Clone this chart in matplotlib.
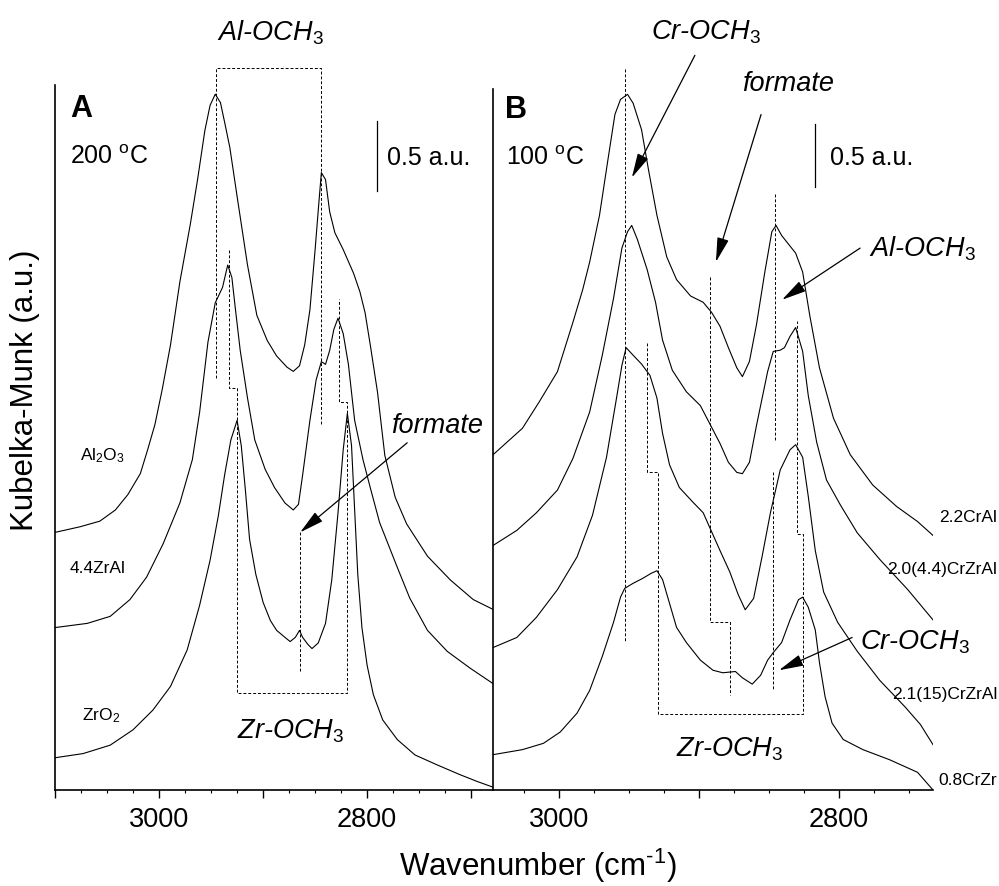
import matplotlib
matplotlib.use('Agg')
import matplotlib.pyplot as plt
from matplotlib.ticker import MultipleLocator, FuncFormatter

plt.rcParams['font.family'] = 'Liberation Sans'
plt.rcParams['mathtext.fontset'] = 'custom'
plt.rcParams['mathtext.rm'] = 'Liberation Sans'
plt.rcParams['mathtext.it'] = 'Liberation Sans:italic'
plt.rcParams['mathtext.bf'] = 'Liberation Sans:bold'

# ---- panel A, 200 C (wavenumber in cm-1, Kubelka-Munk in a.u., offset stacked) ----
wn_al2o3 = [3100, 3076, 3057, 3042, 3030, 3018, 3011, 3004, 2997, 2989, 2980, 2970, 2963, 2956, 2951,
            2946, 2941, 2937, 2932, 2925, 2915, 2906, 2896, 2887, 2877, 2871, 2865, 2860, 2855, 2850,
            2847, 2844, 2840, 2836, 2831, 2823, 2813, 2807, 2802, 2797, 2790, 2783, 2773, 2762, 2742,
            2720, 2698, 2679]
km_al2o3 = [1.84, 1.88, 1.92, 2.00, 2.11, 2.26, 2.43, 2.61, 2.86, 3.18, 3.63, 4.04, 4.36, 4.71, 4.89,
            4.97, 4.91, 4.77, 4.59, 4.24, 3.75, 3.39, 3.21, 3.10, 3.02, 2.99, 3.03, 3.18, 3.43, 3.86,
            4.14, 4.41, 4.36, 4.13, 3.98, 3.86, 3.69, 3.56, 3.41, 3.18, 2.84, 2.39, 2.09, 1.90, 1.67,
            1.50, 1.36, 1.29]

wn_zral = [3100, 3069, 3047, 3028, 3012, 2996, 2980, 2968, 2961, 2953, 2946, 2939, 2934, 2930, 2927,
           2922, 2915, 2908, 2898, 2889, 2879, 2871, 2866, 2862, 2855, 2849, 2844, 2840, 2836, 2832,
           2828, 2823, 2818, 2812, 2804, 2797, 2788, 2771, 2759, 2742, 2723, 2701, 2679]
km_zral = [1.16, 1.19, 1.24, 1.36, 1.52, 1.76, 2.05, 2.36, 2.70, 3.20, 3.48, 3.59, 3.75, 3.66, 3.46,
           3.14, 2.80, 2.50, 2.29, 2.16, 2.05, 2.00, 2.04, 2.25, 2.64, 2.93, 3.06, 3.04, 3.14, 3.29,
           3.37, 3.26, 3.04, 2.64, 2.36, 2.16, 1.91, 1.59, 1.37, 1.14, 0.99, 0.87, 0.76]

wn_zro2 = [3100, 3073, 3047, 3025, 3006, 2989, 2973, 2961, 2951, 2943, 2937, 2931, 2925, 2921, 2917,
           2913, 2907, 2900, 2893, 2887, 2879, 2874, 2869, 2865, 2862, 2857, 2853, 2847, 2840, 2834,
           2828, 2823, 2819, 2815, 2812, 2809, 2805, 2800, 2794, 2785, 2771, 2754, 2733, 2711, 2694,
           2679]
km_zro2 = [0.23, 0.26, 0.32, 0.43, 0.57, 0.74, 1.00, 1.32, 1.64, 1.96, 2.25, 2.50, 2.64, 2.46, 2.14,
           1.79, 1.54, 1.34, 1.21, 1.14, 1.09, 1.06, 1.09, 1.14, 1.09, 1.04, 1.01, 1.05, 1.19, 1.50,
           1.98, 2.43, 2.69, 2.46, 2.00, 1.54, 1.16, 0.89, 0.68, 0.50, 0.36, 0.25, 0.18, 0.11, 0.06,
           0.02]

# ---- panel B, 100 C ----
wn_crai = [3047, 3035, 3026, 3014, 3001, 2990, 2983, 2978, 2971, 2965, 2960, 2956, 2951, 2947, 2941,
           2936, 2930, 2923, 2916, 2906, 2897, 2891, 2885, 2879, 2873, 2869, 2864, 2859, 2853, 2848,
           2845, 2841, 2836, 2831, 2826, 2821, 2814, 2804, 2792, 2776, 2759, 2744, 2733]
km_crai = [2.66, 2.78, 2.87, 3.08, 3.32, 3.71, 3.97, 4.19, 4.56, 5.00, 5.36, 5.48, 5.52, 5.45, 5.24,
           4.92, 4.56, 4.23, 4.05, 3.92, 3.87, 3.79, 3.68, 3.51, 3.35, 3.28, 3.40, 3.69, 4.11, 4.43,
           4.48, 4.40, 4.33, 4.26, 4.11, 3.77, 3.35, 2.95, 2.66, 2.42, 2.25, 2.13, 2.02]

wn_crzral44 = [3047, 3030, 3016, 3001, 2990, 2978, 2969, 2961, 2955, 2951, 2948, 2944, 2937, 2931, 2926,
               2919, 2909, 2899, 2892, 2885, 2879, 2873, 2869, 2864, 2859, 2851, 2847, 2842, 2839, 2835,
               2831, 2826, 2822, 2816, 2809, 2799, 2787, 2771, 2751, 2733]
km_crzral44 = [1.94, 2.06, 2.20, 2.38, 2.63, 3.00, 3.45, 3.90, 4.30, 4.43, 4.48, 4.37, 4.13, 3.87, 3.57,
               3.33, 3.16, 3.05, 2.90, 2.75, 2.60, 2.52, 2.51, 2.60, 2.89, 3.32, 3.48, 3.49, 3.51, 3.60,
               3.67, 3.48, 3.13, 2.76, 2.46, 2.26, 2.04, 1.83, 1.59, 1.35]

wn_crzral15 = [3047, 3030, 3016, 3001, 2987, 2976, 2966, 2959, 2955, 2952, 2947, 2941, 2935, 2930, 2926,
               2921, 2914, 2904, 2897, 2891, 2885, 2878, 2872, 2867, 2861, 2855, 2849, 2842, 2835, 2831,
               2826, 2822, 2817, 2811, 2801, 2787, 2771, 2753, 2742, 2733]
km_crzral15 = [1.13, 1.21, 1.37, 1.59, 1.85, 2.18, 2.64, 3.10, 3.37, 3.51, 3.45, 3.38, 3.29, 3.11, 2.83,
               2.58, 2.40, 2.28, 2.20, 2.05, 1.90, 1.73, 1.55, 1.43, 1.52, 1.85, 2.20, 2.54, 2.70, 2.74,
               2.64, 2.33, 1.90, 1.57, 1.33, 1.10, 0.87, 0.66, 0.52, 0.36]

wn_crzr = [3047, 3026, 3011, 2999, 2987, 2978, 2969, 2961, 2956, 2953, 2947, 2940, 2934, 2930, 2926,
           2921, 2916, 2909, 2899, 2890, 2883, 2874, 2869, 2862, 2856, 2851, 2847, 2841, 2835, 2829,
           2826, 2822, 2817, 2814, 2810, 2805, 2797, 2783, 2764, 2744, 2733]
km_crzr = [0.28, 0.32, 0.37, 0.46, 0.61, 0.79, 1.06, 1.33, 1.53, 1.60, 1.64, 1.68, 1.72, 1.74, 1.67,
           1.48, 1.29, 1.17, 1.03, 0.95, 0.93, 0.94, 0.89, 0.84, 0.91, 1.03, 1.09, 1.17, 1.35, 1.51,
           1.53, 1.45, 1.27, 1.01, 0.74, 0.53, 0.40, 0.32, 0.24, 0.14, 0.00]

# band assignments (cm-1)
al_bands_a = [2945, 2844]
zr_bands = [2925, 2819]
formate_band = 2865

LW = 0.8
DASH = dict(color='k', lw=0.7, ls=(0, (3, 2)), clip_on=False)
ARROW = dict(arrowstyle='-|>,head_length=0.75,head_width=0.18', color='k', lw=0.9,
             mutation_scale=20, shrinkA=0, shrinkB=0)
LABEL_FS = 19.5


def style_axes(ax, left, right, top):
    ax.set_xlim(left, right)
    ax.set_ylim(0, top)
    for side in ('top', 'right'):
        ax.spines[side].set_visible(False)
    for side in ('left', 'bottom'):
        ax.spines[side].set_linewidth(1.2)
    ax.tick_params(axis='y', left=False, labelleft=False)
    ax.xaxis.set_major_locator(MultipleLocator(100))
    ax.xaxis.set_minor_locator(MultipleLocator(25))
    ax.xaxis.set_major_formatter(FuncFormatter(
        lambda v, p: f'{v:.0f}' if round(v) in (3000, 2800) else ''))
    ax.tick_params(axis='x', which='major', direction='out', length=6, width=1.0,
                   labelsize=19.5, pad=6)
    ax.tick_params(axis='x', which='minor', direction='out', length=2.5, width=0.8)
    ax.patch.set_alpha(0)


fig = plt.figure(figsize=(9.99, 8.86), dpi=100)
ax_a = fig.add_axes([0.0551, 0.1084, 0.4384, 0.7957])
ax_b = fig.add_axes([0.4935, 0.1084, 0.4404, 0.7912])
style_axes(ax_a, 3100, 2679, 5.036)
style_axes(ax_b, 3047, 2733, 5.563)

# ---------------- panel A ----------------
for wn, km in [(wn_al2o3, km_al2o3), (wn_zral, km_zral), (wn_zro2, km_zro2)]:
    ax_a.plot(wn, km, color='k', lw=LW)

ax_a.plot([al_bands_a[0], al_bands_a[0], al_bands_a[1], al_bands_a[1]],
          [2.94, 5.16, 5.16, 2.61], **DASH)
ax_a.plot([2932.7, 2932.7, zr_bands[0], zr_bands[0], zr_bands[1], zr_bands[1], 2826.9, 2826.9],
          [3.86, 2.87, 2.87, 0.69, 0.69, 2.77, 2.77, 3.51], **DASH)
ax_a.plot([formate_band, formate_band], [1.84, 0.84], **DASH)

ax_a.text(2893, 5.357, 'Al-OCH$_{\\mathit{3}}$', style='italic', ha='center', va='baseline',
          fontsize=LABEL_FS, clip_on=False)
ax_a.text(2733, 2.55, 'formate', style='italic', ha='center', va='baseline', fontsize=LABEL_FS)
ax_a.annotate('', xy=(2864.4, 1.84), xytext=(2761.5, 2.48), arrowprops=ARROW)
ax_a.text(2873, 0.371, 'Zr-OCH$_{\\mathit{3}}$', style='italic', ha='center', va='baseline',
          fontsize=LABEL_FS)

ax_a.text(3085.6, 4.807, 'A', fontweight='bold', fontsize=22, va='baseline')
ax_a.text(3085.6, 4.471, '200 $^{\\rm o}$C', fontsize=18, va='baseline')
ax_a.plot([2790.4, 2790.4], [4.279, 4.779], color='k', lw=0.9)
ax_a.text(2780.8, 4.464, '0.5 a.u.', fontsize=18, va='baseline')

ax_a.text(3076, 2.357, 'Al$_2$O$_3$', fontsize=12.5, va='baseline')
ax_a.text(3085.6, 1.55, '4.4ZrAl', fontsize=12.5, va='baseline')
ax_a.text(3074, 0.50, 'ZrO$_2$', fontsize=12.5, va='baseline')

# ---------------- panel B ----------------
for wn, km in [(wn_crai, km_crai), (wn_crzral44, km_crzral44),
               (wn_crzral15, km_crzral15), (wn_crzr, km_crzr)]:
    ax_b.plot(wn, km, color='k', lw=LW)

ax_b.plot([2952.9, 2952.9], [5.72, 1.18], **DASH)
ax_b.plot([2937.1, 2937.1, 2929.3, 2929.3, 2825.7, 2825.7, 2830.0, 2830.0],
          [3.55, 2.52, 2.52, 0.60, 0.60, 2.03, 2.03, 3.72], **DASH)
ax_b.plot([2892.1, 2892.1, 2877.9, 2877.9], [4.07, 1.33, 1.33, 0.75], **DASH)
ax_b.plot([2845.7, 2845.7], [4.73, 2.78], **DASH)
ax_b.plot([2847.1, 2847.1], [2.52, 0.79], **DASH)

ax_b.text(2895, 5.952, 'Cr-OCH$_{\\mathit{3}}$', style='italic', ha='center', va='baseline',
          fontsize=LABEL_FS, clip_on=False)
ax_b.annotate('', xy=(2947.9, 4.86), xytext=(2902.9, 5.83), arrowprops=ARROW, annotation_clip=False)
ax_b.text(2836.4, 5.548, 'formate', style='italic', ha='center', va='baseline', fontsize=LABEL_FS)
ax_b.annotate('', xy=(2887.9, 4.19), xytext=(2855.7, 5.36), arrowprops=ARROW)
ax_b.text(2740.7, 4.23, 'Al-OCH$_{\\mathit{3}}$', style='italic', ha='center', va='baseline',
          fontsize=LABEL_FS, clip_on=False)
ax_b.annotate('', xy=(2840.7, 3.89), xytext=(2785, 4.30), arrowprops=ARROW)
ax_b.text(2745.7, 1.111, 'Cr-OCH$_{\\mathit{3}}$', style='italic', ha='center', va='baseline',
          fontsize=LABEL_FS, clip_on=False)
ax_b.annotate('', xy=(2842.9, 0.95), xytext=(2790.7, 1.21), arrowprops=ARROW)
ax_b.text(2877.9, 0.262, 'Zr-OCH$_{\\mathit{3}}$', style='italic', ha='center', va='baseline',
          fontsize=LABEL_FS)

ax_b.text(3038.6, 5.333, 'B', fontweight='bold', fontsize=22, va='baseline')
ax_b.text(3037.9, 4.96, '100 $^{\\rm o}$C', fontsize=18, va='baseline')
ax_b.plot([2817.1, 2817.1], [4.786, 5.286], color='k', lw=0.9)
ax_b.text(2806.4, 4.96, '0.5 a.u.', fontsize=18, va='baseline')

for txt, y in [('2.2CrAl', 2.127), ('2.0(4.4)CrZrAl', 1.714),
               ('2.1(15)CrZrAl', 0.722), ('0.8CrZr', 0.040)]:
    ax_b.text(2687, y, txt, fontsize=12.5, ha='right', va='baseline', clip_on=False)

fig.text(0.538, 0.0226, 'Wavenumber (cm$^{\\text{-}1}$)', fontsize=22.5, ha='center', va='center')
fig.text(0.0255, 1 - 390 / 886, 'Kubelka-Munk (a.u.)', fontsize=22.5, rotation=90,
         ha='center', va='center')

fig.savefig('out.png', dpi=100)
